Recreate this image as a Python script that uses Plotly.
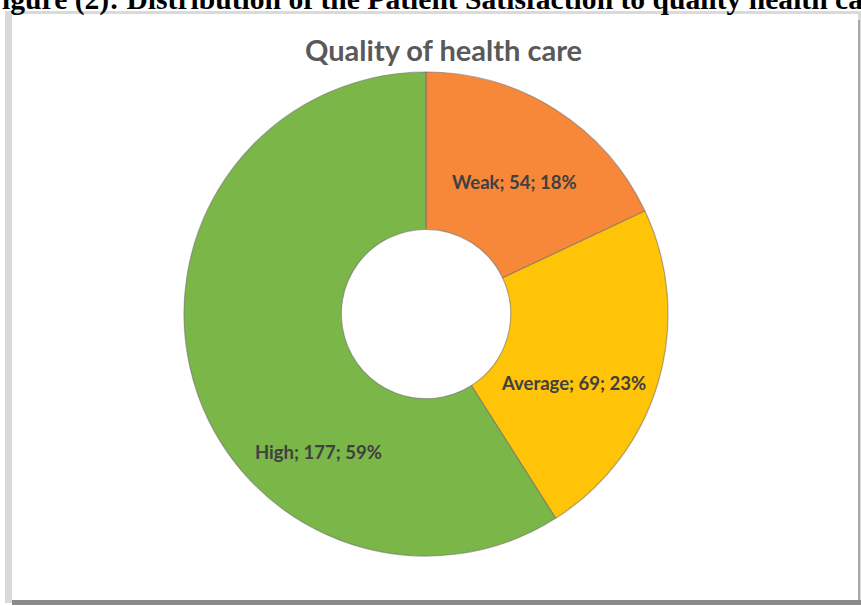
import plotly.graph_objects as go

categories = ["Weak", "Average", "High"]
counts = [54, 69, 177]
colors = ["#F7883A", "#FFC408", "#7AB648"]

W, H = 861, 606
total = sum(counts)
label_texts = [f"{c}; {v}; {round(100 * v / total)}%" for c, v in zip(categories, counts)]


def px(x):
    return x / W


def py(y):
    return 1 - y / H


fig = go.Figure()

cx, cy, r = 426, 314, 242
fig.add_trace(go.Pie(
    labels=categories,
    values=counts,
    sort=False,
    direction="clockwise",
    rotation=0,
    hole=0.35,
    marker=dict(colors=colors, line=dict(color="rgba(110,110,110,0.55)", width=1.2)),
    textinfo="none",
    hoverinfo="label+value+percent",
    showlegend=False,
    domain=dict(x=[px(cx - r), px(cx + r)], y=[py(cy + r), py(cy - r)]),
))

shapes = [
    dict(type="rect", xref="paper", yref="paper", x0=px(5), x1=px(861), y0=py(603), y1=py(11),
         fillcolor="#dadada", line=dict(width=0), layer="below"),
    dict(type="rect", xref="paper", yref="paper", x0=px(12), x1=px(858), y0=py(600), y1=py(14),
         fillcolor="#ffffff", line=dict(width=0), layer="below"),
    dict(type="rect", xref="paper", yref="paper", x0=px(12), x1=px(861), y0=py(605), y1=py(600),
         fillcolor="#8a8a8a", line=dict(width=0), layer="below"),
    dict(type="rect", xref="paper", yref="paper", x0=px(858), x1=px(860), y0=py(600), y1=py(20),
         fillcolor="#a8a8a8", line=dict(width=0), layer="below"),
]

label_pos = [(514, 182), (573, 383), (318, 452)]
annotations = [
    dict(text="<b>Figure (2): Distribution of the Patient Satisfaction to quality health care</b>",
         xref="paper", yref="paper", x=px(-18), y=py(18), xanchor="left", yanchor="bottom",
         showarrow=False, font=dict(family="Liberation Serif", size=29.6, color="#000000")),
    dict(text="<b>Quality of health care</b>", xref="paper", yref="paper", x=px(443), y=py(49),
         xanchor="center", yanchor="middle", showarrow=False,
         font=dict(family="Lato", size=29, color="#595959")),
]
for t, (x, y) in zip(label_texts, label_pos):
    annotations.append(dict(text=f"<b>{t}</b>", xref="paper", yref="paper", x=px(x), y=py(y),
                            xanchor="center", yanchor="middle", showarrow=False,
                            font=dict(family="Lato", size=18.5, color="#404040")))

fig.update_layout(
    width=W, height=H,
    margin=dict(l=0, r=0, t=0, b=0),
    paper_bgcolor="#ffffff",
    plot_bgcolor="#ffffff",
    shapes=shapes,
    annotations=annotations,
)

fig.write_html(
    "out.html",
    config={"displayModeBar": False},
    post_script="document.body.style.margin='0';document.body.style.overflow='hidden';",
)
